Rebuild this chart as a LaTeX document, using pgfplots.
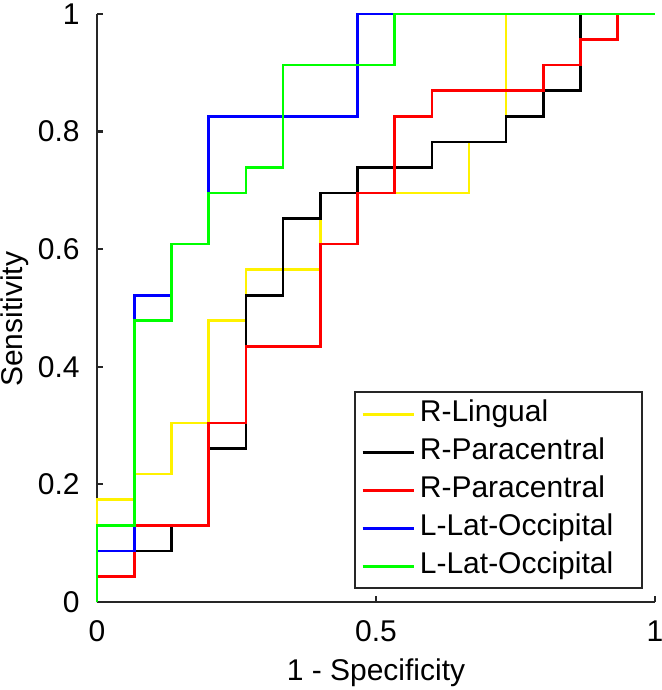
\documentclass[border=0pt]{standalone}
\usepackage{pgfplots}
\pgfplotsset{compat=1.18}
\usepackage{fontspec}
\setmainfont{Liberation Sans}
\definecolor{axgray}{RGB}{38,38,38}
\begin{document}
\begin{tikzpicture}
\useasboundingbox (-48.5pt,-44pt) rectangle (282pt,301pt);
\begin{axis}[
  at={(0pt,0pt)}, anchor=south west,
  scale only axis, width=279pt, height=294pt,
  xmin=0, xmax=1, ymin=0, ymax=1,
  axis x line*=bottom, axis y line*=left,
  axis line style={axgray, line width=1.1pt, -},
  tick style={axgray, line width=1.1pt},
  major tick length=3pt,
  tick align=inside,
  xtick={0,0.5,1}, ytick={0,0.2,0.4,0.6,0.8,1},
  font=\fontsize{15}{18}\selectfont,
  /pgf/number format/assume math mode=true,
  xticklabel style={anchor=base, inner sep=0pt, yshift=-19.9pt},
  yticklabel style={anchor=east, inner sep=0pt, xshift=-8.5pt},
  xlabel={1 - Specificity}, ylabel={Sensitivity},
  xlabel style={at={(axis description cs:0.5,-0.1327)}, anchor=base},
  ylabel style={at={(axis description cs:-0.147,0.481)}, anchor=center},
  clip=false,
  legend style={at={(axis cs:0.979,0.0216)}, anchor=south east, draw=axgray, line width=1pt, fill=white,
    inner xsep=3pt, inner ysep=1.5pt, row sep=0pt,
    nodes={inner xsep=2.5pt, inner ysep=2.25pt, text height=11pt, text depth=3.5pt},
    font=\fontsize{15}{18}\selectfont},
  legend image code/.code={\draw[#1] (0pt,0pt) -- (25.5pt,0pt);},
  legend cell align=left,
  every axis plot/.append style={line width=1.3pt},
]
\addplot[yellow] coordinates {(0,0)(0,0.1739)(0.0667,0.1739)(0.0667,0.2174)(0.1333,0.2174)(0.1333,0.3043)(0.2,0.3043)(0.2,0.4783)(0.2667,0.4783)(0.2667,0.5652)(0.4,0.5652)(0.4,0.6957)(0.6667,0.6957)(0.6667,0.7826)(0.7333,0.7826)(0.7333,1)(1,1)};
\addlegendentry{R-Lingual}
\addplot[black] coordinates {(0,0)(0,0.0870)(0.1333,0.0870)(0.1333,0.1304)(0.2,0.1304)(0.2,0.2609)(0.2667,0.2609)(0.2667,0.5217)(0.3333,0.5217)(0.3333,0.6522)(0.4,0.6522)(0.4,0.6957)(0.4667,0.6957)(0.4667,0.7391)(0.6,0.7391)(0.6,0.7826)(0.7333,0.7826)(0.7333,0.8261)(0.8,0.8261)(0.8,0.8696)(0.8667,0.8696)(0.8667,1)(1,1)};
\addlegendentry{R-Paracentral}
\addplot[red] coordinates {(0,0)(0,0.0435)(0.0667,0.0435)(0.0667,0.1304)(0.2,0.1304)(0.2,0.3043)(0.2667,0.3043)(0.2667,0.4348)(0.4,0.4348)(0.4,0.6087)(0.4667,0.6087)(0.4667,0.6957)(0.5333,0.6957)(0.5333,0.8261)(0.6,0.8261)(0.6,0.8696)(0.8,0.8696)(0.8,0.9130)(0.8667,0.9130)(0.8667,0.9565)(0.9333,0.9565)(0.9333,1)(1,1)};
\addlegendentry{R-Paracentral}
\addplot[blue] coordinates {(0,0)(0,0.0870)(0.0667,0.0870)(0.0667,0.5217)(0.1333,0.5217)(0.1333,0.6087)(0.2,0.6087)(0.2,0.8261)(0.4667,0.8261)(0.4667,1)(1,1)};
\addlegendentry{L-Lat-Occipital\hspace*{9pt}}
\addplot[green] coordinates {(0,0)(0,0.1304)(0.0667,0.1304)(0.0667,0.4783)(0.1333,0.4783)(0.1333,0.6087)(0.2,0.6087)(0.2,0.6957)(0.2667,0.6957)(0.2667,0.7391)(0.3333,0.7391)(0.3333,0.9130)(0.5333,0.9130)(0.5333,1)(1,1)};
\addlegendentry{L-Lat-Occipital\hspace*{9pt}}
\end{axis}
\end{tikzpicture}
\end{document}
